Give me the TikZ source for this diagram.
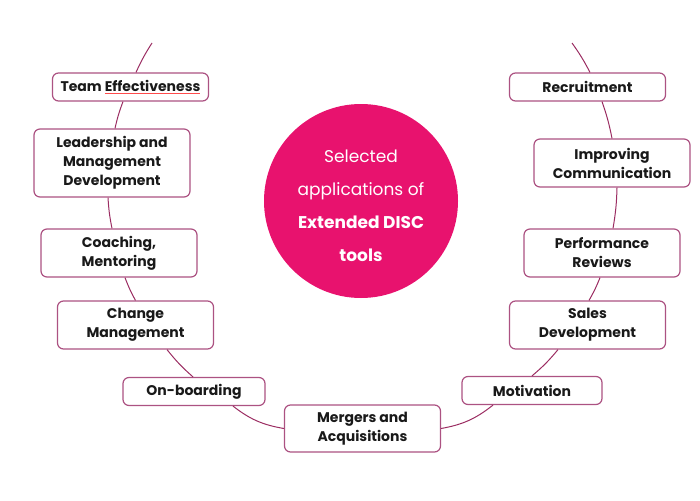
\documentclass[tikz,border=0pt]{standalone}
\usepackage{fontspec}
\setmainfont{Poppins}
\usetikzlibrary{positioning}

\definecolor{discpink}{RGB}{232,18,110}
\definecolor{boxline}{RGB}{172,82,130}
\definecolor{linkline}{RGB}{155,45,98}
\definecolor{txt}{RGB}{25,25,25}

\tikzset{
  appbox/.style={draw=boxline, line width=1.2pt, rounded corners=6pt, fill=white,
    align=center, text=txt, font=\fontsize{14}{19}\selectfont\bfseries,
    minimum width=156pt, minimum height=28pt, inner sep=2pt},
  link/.style={draw=linkline, line width=1pt},
}

\begin{document}
\begin{tikzpicture}[x=1pt, y=-1pt]
    \useasboundingbox (0,0) rectangle (700,500);

    % centre circle
    \node[circle, fill=discpink, minimum size=194pt, inner sep=0pt] (disc) at (361,201) {};
    \node[text=white, align=center, font=\fontsize{17}{33}\selectfont]
      (disctext) at ([yshift=-5pt]disc.center)
      {Selected\\applications of\\\textbf{Extended DISC}\\\textbf{tools}};

    % left branch
    \node[appbox] (team) at (130.5,87)
      {Team {\color{red!70}\underline{\color{txt}Effectiveness}}};
    \node[appbox, minimum height=68pt] (lead) at (112,163)
      {Leadership and\\Management\\Development};
    \node[appbox, minimum height=48pt] (coach) at (119,253) {Coaching,\\Mentoring};
    \node[appbox, minimum height=48pt] (change) at (135.5,325) {Change\\Management};
    \node[appbox, minimum width=142pt] (onb) at (194,391.5) {On-boarding};

    % bottom
    \node[appbox, minimum height=47pt] (merge) at (362.5,428.5) {Mergers and\\Acquisitions};

    % right branch
    \node[appbox, minimum width=140pt] (motiv) at (532,390.5) {Motivation};
    \node[appbox, minimum height=48pt] (sales) at (587.5,325) {Sales\\Development};
    \node[appbox, minimum height=48pt] (perf) at (602,253) {Performance\\Reviews};
    \node[appbox, minimum height=48pt] (comm) at (612,163) {Improving\\Communication};
    \node[appbox] (recr) at (587.5,87) {Recruitment};

    % open ends of the arc
    \coordinate (topL) at (152,43);
    \coordinate (topR) at (572,43);

    % arc, left side
    \draw[link] (topL) to[bend right=4] ([xshift=5.5pt]team.north);
    \draw[link] ([xshift=-7.5pt]team.south) to[bend right=4] ([xshift=3pt]lead.north);
    \draw[link] ([xshift=-4pt]lead.south) to[bend right=4] ([xshift=-7pt]coach.north);
    \draw[link] ([xshift=6pt]coach.south) to[bend right=4] (change.north);
    \draw[link] ([xshift=31.5pt]change.south) to[bend right=5] ([xshift=-1pt]onb.north);
    \draw[link] ([xshift=39pt]onb.south) to[bend right=14] (merge.west);

    % arc, right side
    \draw[link] (topR) to[bend left=4] ([xshift=2.5pt]recr.north);
    \draw[link] ([xshift=14.5pt]recr.south) to[bend left=4] (comm.north);
    \draw[link] ([xshift=5pt]comm.south) to[bend left=4] ([xshift=11pt]perf.north);
    \draw[link] ([xshift=-2pt]perf.south) to[bend left=4] ([xshift=1.5pt]sales.north);
    \draw[link] ([xshift=-29.5pt]sales.south) to[bend left=5] (motiv.north);
    \draw[link] ([xshift=-39pt]motiv.south) to[bend left=14] (merge.east);
\end{tikzpicture}
\end{document}
